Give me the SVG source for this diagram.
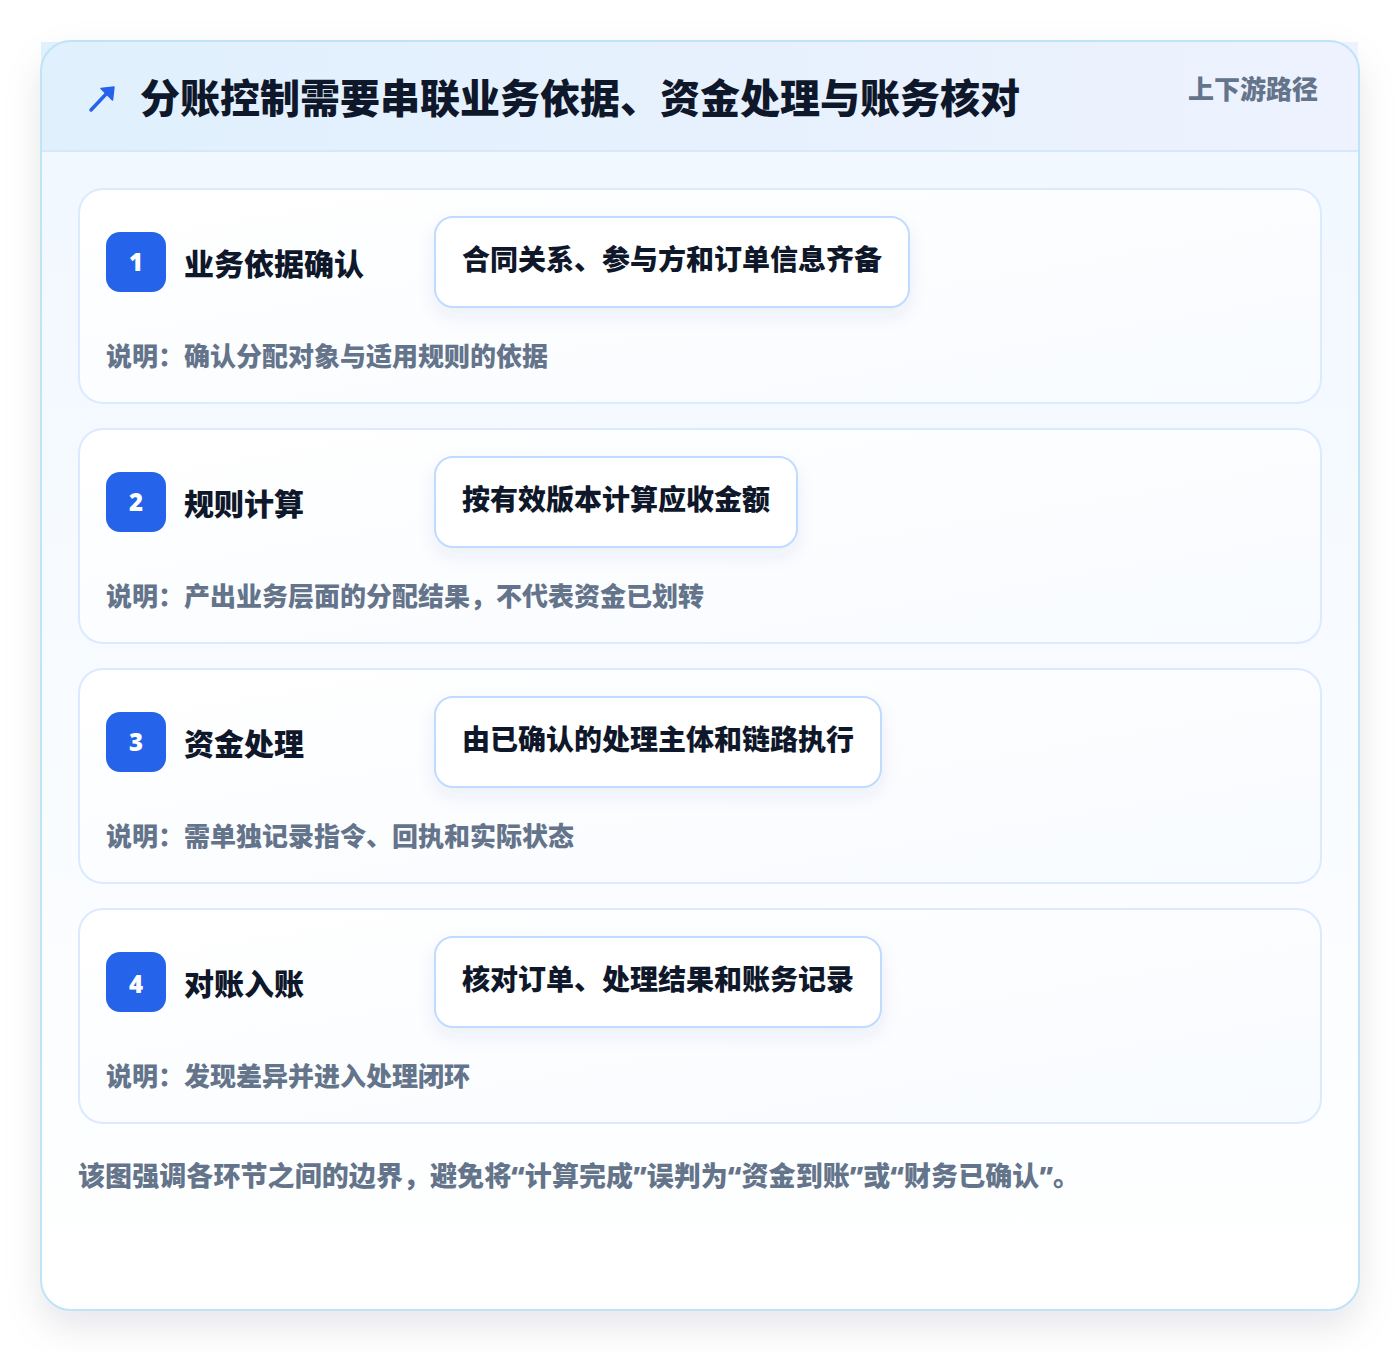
<svg xmlns="http://www.w3.org/2000/svg" width="1400" height="1352" viewBox="0 0 1400 1352">
<defs>
<style>
.t{font-family:"Noto Sans","Noto Sans CJK SC",sans-serif;font-weight:900}
.title{font-size:40px;fill:#0f172a}
.tag{font-size:26px;fill:#64748b}
.stitle{font-size:30px;fill:#0f172a}
.pilltxt{font-size:28px;fill:#0f172a}
.desc{font-size:26px;fill:#64748b}
.num{font-size:24px;fill:#ffffff}
.foot{font-size:27px;fill:#64748b;letter-spacing:0.08px}
.card{fill:url(#cardG);stroke:#dbeafe;stroke-width:2}
.badge{fill:#2563eb}
.pill{fill:#ffffff;stroke:#bfdbfe;stroke-width:2}
</style>
<linearGradient id="headG" x1="0" y1="0" x2="1" y2="0">
<stop offset="0" stop-color="#e0f0fd"/>
<stop offset="1" stop-color="#edf2fe"/>
</linearGradient>
<linearGradient id="bodyG" x1="0" y1="0" x2="0" y2="1">
<stop offset="0" stop-color="#f0f7ff"/>
<stop offset="1" stop-color="#ffffff"/>
</linearGradient>
<linearGradient id="cardG" x1="0" y1="0" x2="1" y2="1">
<stop offset="0" stop-color="#ffffff"/>
<stop offset="1" stop-color="#f8fbff"/>
</linearGradient>
<filter id="outerSh" x="-10%" y="-10%" width="120%" height="125%">
<feDropShadow dx="0" dy="16" stdDeviation="18" flood-color="#0f172a" flood-opacity="0.10"/>
</filter>
<filter id="pillSh" x="-20%" y="-40%" width="140%" height="200%">
<feDropShadow dx="0" dy="8" stdDeviation="9" flood-color="#1e3a8a" flood-opacity="0.07"/>
</filter>
</defs>
<rect x="0" y="0" width="1400" height="1352" fill="#ffffff"/>
<g id="frame">
<rect x="41" y="41" width="1318" height="1269" rx="30" fill="url(#bodyG)" filter="url(#outerSh)"/>
<rect x="41" y="42" width="1317" height="109" fill="url(#headG)"/>
<line x1="41" y1="151" x2="1358" y2="151" stroke="#d6e8fa" stroke-width="2"/>
<rect x="41" y="41" width="1318" height="1269" rx="30" fill="none" stroke="#bfe3f7" stroke-width="2"/>
</g>
<g id="header">
<line x1="91" y1="110" x2="108" y2="92" stroke="#2563eb" stroke-width="3.5" stroke-linecap="round"/>
<path d="M114 87 L112.5 100 L101 88.5 Z" fill="#2563eb" stroke="#2563eb" stroke-width="1.5" stroke-linejoin="round"/>
<text class="t title" x="140" y="113">分账控制需要串联业务依据、资金处理与账务核对</text>
<text class="t tag" x="1318" y="99" text-anchor="end">上下游路径</text>
</g>
<g id="connectors"/>
<g id="step1">
<rect class="card" x="79" y="189" width="1242" height="214" rx="24"/>
<rect class="badge" x="106" y="232" width="60" height="60" rx="14"/>
<text class="t num" x="136" y="271" text-anchor="middle">1</text>
<text class="t stitle" x="184" y="275">业务依据确认</text>
<rect class="pill" x="435" y="217" width="474" height="90" rx="18" filter="url(#pillSh)"/>
<text class="t pilltxt" x="462" y="270">合同关系、参与方和订单信息齐备</text>
<text class="t desc" x="106" y="366">说明：确认分配对象与适用规则的依据</text>
</g>
<g id="step2">
<rect class="card" x="79" y="429" width="1242" height="214" rx="24"/>
<rect class="badge" x="106" y="472" width="60" height="60" rx="14"/>
<text class="t num" x="136" y="511" text-anchor="middle">2</text>
<text class="t stitle" x="184" y="515">规则计算</text>
<rect class="pill" x="435" y="457" width="362" height="90" rx="18" filter="url(#pillSh)"/>
<text class="t pilltxt" x="462" y="510">按有效版本计算应收金额</text>
<text class="t desc" x="106" y="606">说明：产出业务层面的分配结果，不代表资金已划转</text>
</g>
<g id="step3">
<rect class="card" x="79" y="669" width="1242" height="214" rx="24"/>
<rect class="badge" x="106" y="712" width="60" height="60" rx="14"/>
<text class="t num" x="136" y="751" text-anchor="middle">3</text>
<text class="t stitle" x="184" y="755">资金处理</text>
<rect class="pill" x="435" y="697" width="446" height="90" rx="18" filter="url(#pillSh)"/>
<text class="t pilltxt" x="462" y="750">由已确认的处理主体和链路执行</text>
<text class="t desc" x="106" y="846">说明：需单独记录指令、回执和实际状态</text>
</g>
<g id="step4">
<rect class="card" x="79" y="909" width="1242" height="214" rx="24"/>
<rect class="badge" x="106" y="952" width="60" height="60" rx="14"/>
<text class="t num" x="136" y="993" text-anchor="middle">4</text>
<text class="t stitle" x="184" y="995">对账入账</text>
<rect class="pill" x="435" y="937" width="446" height="90" rx="18" filter="url(#pillSh)"/>
<text class="t pilltxt" x="462" y="990">核对订单、处理结果和账务记录</text>
<text class="t desc" x="106" y="1086">说明：发现差异并进入处理闭环</text>
</g>
<g id="footer">
<text class="t foot" x="78" y="1186">该图强调各环节之间的边界，避免将“计算完成”误判为“资金到账”或“财务已确认”。</text>
</g>
</svg>
